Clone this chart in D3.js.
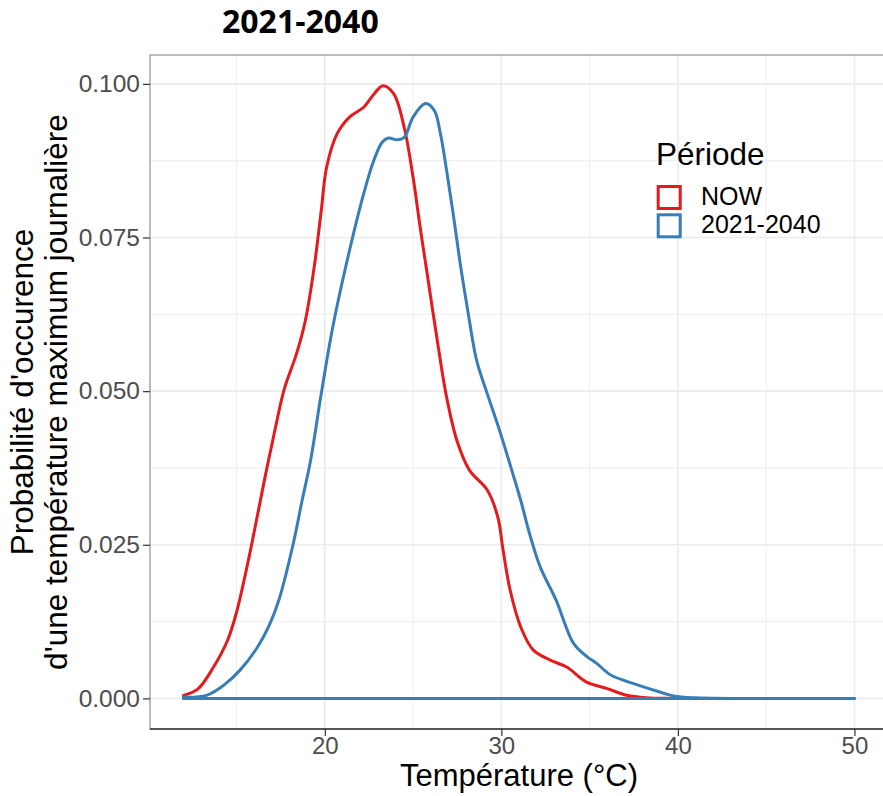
<!DOCTYPE html>
<html><head><meta charset="utf-8">
<script src="https://cdn.jsdelivr.net/npm/d3@7"></script>
<style>body{margin:0;background:#fff}svg{display:block}</style>
</head><body>
<svg id="c" width="883" height="796"></svg>
<script>
const title = "2021-2040";
const xLabel = "Température (°C)";
const yLabel = ["Probabilité d'occurence", "d'une température maximum journalière"];
const legendTitle = "Période";
const seriesNames = ["NOW", "2021-2040"];
const seriesColors = ["#E41A1C", "#377EB8"];
const xTicks = [20, 30, 40, 50];
const xMinor = [15, 25, 35, 45];
const yTicks = [0, 0.025, 0.05, 0.075, 0.1];
const yTickLabels = ["0.000", "0.025", "0.050", "0.075", "0.100"];

const tempNow = [12, 12.8, 13.7, 14.5, 15.0, 15.6, 16.2, 16.7, 17.2, 17.7, 18.4, 18.9, 19.4, 19.8, 20.1, 20.7, 21.4, 22.2, 22.8, 23.3, 23.9, 24.5, 25.0, 25.4, 25.8, 26.4, 26.9, 27.5, 28.2, 29.2, 29.8, 30.1, 30.5, 31.1, 31.8, 32.8, 33.7, 34.8, 36.0, 37.1, 38.2, 40, 50];
const densNow = [0.0005, 0.0015, 0.0051, 0.0095, 0.0140, 0.0215, 0.0300, 0.0372, 0.0440, 0.0503, 0.0561, 0.0615, 0.0702, 0.0794, 0.0864, 0.0919, 0.0946, 0.0962, 0.0984, 0.0997, 0.0984, 0.0929, 0.0848, 0.0767, 0.0691, 0.0577, 0.0490, 0.0418, 0.0371, 0.0339, 0.0295, 0.0241, 0.0176, 0.0116, 0.0079, 0.0062, 0.0051, 0.0027, 0.0016, 0.0005, 0.0001, 0, 0];

const tempFut = [12, 13.3, 14.3, 15.2, 16.2, 16.9, 17.4, 18.2, 18.7, 19.2, 19.8, 20.45, 21.27, 22.2, 22.77, 23.25, 23.6, 24.1, 24.5, 25.0, 25.7, 26.2, 26.55, 26.9, 27.3, 27.7, 28.1, 28.6, 29.2, 29.9, 30.5, 31.1, 31.6, 32.2, 33.1, 34.1, 34.85, 35.4, 36.2, 37.5, 38.8, 39.75, 41, 50];
const densFut = [0.0002, 0.0005, 0.0022, 0.0046, 0.0084, 0.0122, 0.0160, 0.0250, 0.0320, 0.0388, 0.0496, 0.0604, 0.0713, 0.0821, 0.0875, 0.0905, 0.0912, 0.0909, 0.0913, 0.0946, 0.0968, 0.0957, 0.0919, 0.0859, 0.0783, 0.0702, 0.0631, 0.0550, 0.0496, 0.0436, 0.0380, 0.0322, 0.0268, 0.0214, 0.0160, 0.0089, 0.0068, 0.0057, 0.0038, 0.0024, 0.0012, 0.0004, 0.0001, 0];

const series = [
  {name: seriesNames[0], color: seriesColors[0], pts: tempNow.map((t, i) => [t, densNow[i]])},
  {name: seriesNames[1], color: seriesColors[1], pts: tempFut.map((t, i) => [t, densFut[i]])}
];

const FONT = "Liberation Sans, Arial, sans-serif";
const svg = d3.select("#c");
const L = 150, R = 888, T = 55, B = 729;
const x = d3.scaleLinear().domain([10.1, 51.9]).range([L, R]);
const y = d3.scaleLinear().domain([-0.00498, 0.1047]).range([B, T]);

// grid
const g = svg.append("g");
g.selectAll(".vmin").data(xMinor).join("line")
  .attr("x1", d => x(d)).attr("x2", d => x(d)).attr("y1", T).attr("y2", B)
  .attr("stroke", "#F0F0F0").attr("stroke-width", 1.2);
const yMinor = yTicks.slice(0, -1).map((v, i) => (v + yTicks[i + 1]) / 2);
g.selectAll(".hmin").data(yMinor).join("line")
  .attr("x1", L).attr("x2", R).attr("y1", d => y(d)).attr("y2", d => y(d))
  .attr("stroke", "#F0F0F0").attr("stroke-width", 1.2);
g.selectAll(".vmaj").data(xTicks).join("line")
  .attr("x1", d => x(d)).attr("x2", d => x(d)).attr("y1", T).attr("y2", B)
  .attr("stroke", "#EBEBEB").attr("stroke-width", 1.6);
g.selectAll(".hmaj").data(yTicks).join("line")
  .attr("x1", L).attr("x2", R).attr("y1", d => y(d)).attr("y2", d => y(d))
  .attr("stroke", "#EBEBEB").attr("stroke-width", 1.6);

// curves (outline incl. baseline, like geom_density)
const line = d3.line().x(d => x(d[0])).y(d => y(d[1])).curve(d3.curveCatmullRom.alpha(0.5));
series.forEach(s => {
  const first = s.pts[0], last = s.pts[s.pts.length - 1];
  const path = line(s.pts) + `L${x(last[0])},${y(0)}L${x(first[0])},${y(0)}Z`;
  svg.append("path").attr("d", path).attr("fill", "none")
    .attr("stroke", s.color).attr("stroke-width", 3).attr("stroke-linejoin", "round");
});

// panel border
svg.append("rect").attr("x", L).attr("y", T).attr("width", R - L).attr("height", B - T)
  .attr("fill", "none").attr("stroke", "#999").attr("stroke-width", 1.3);
svg.append("line").attr("x1", L).attr("x2", R).attr("y1", B).attr("y2", B)
  .attr("stroke", "#333").attr("stroke-width", 1.3);

// axes
const xa = svg.append("g").attr("transform", `translate(0,${B})`)
  .call(d3.axisBottom(x).tickValues(xTicks).tickSize(7).tickPadding(1).tickFormat(d3.format("d")));
xa.select(".domain").remove();
xa.selectAll("line").attr("stroke", "#333").attr("stroke-width", 1.2);
xa.selectAll("text").attr("fill", "#4D4D4D").attr("font-size", 24).attr("font-family", FONT);

const ya = svg.append("g").attr("transform", `translate(${L},0)`)
  .call(d3.axisLeft(y).tickValues(yTicks).tickSize(7).tickPadding(3).tickFormat((d, i) => yTickLabels[i]));
ya.select(".domain").remove();
ya.selectAll("line").attr("stroke", "#333").attr("stroke-width", 1.2);
ya.selectAll("text").attr("fill", "#4D4D4D").attr("font-size", 24.5).attr("font-family", FONT);

// titles
svg.append("text").attr("x", 222).attr("y", 33).text(title)
  .attr("font-family", "Open Sans, Noto Sans, sans-serif").attr("font-weight", "bold").attr("font-size", 32).attr("fill", "#000");
svg.append("text").attr("x", 519).attr("y", 786).attr("text-anchor", "middle").text(xLabel)
  .attr("font-family", FONT).attr("font-size", 31).attr("fill", "#000");
const yl = svg.append("text").attr("transform", `translate(0,${(T + B) / 2}) rotate(-90)`)
  .attr("text-anchor", "middle").attr("font-family", FONT).attr("font-size", 31.5).attr("fill", "#000");
yl.append("tspan").attr("x", 0).attr("y", 33).text(yLabel[0]);
yl.append("tspan").attr("x", 0).attr("y", 67).text(yLabel[1]);

// legend
const lg = svg.append("g");
lg.append("text").attr("x", 656).attr("y", 165).text(legendTitle)
  .attr("font-family", FONT).attr("font-size", 31.5).attr("fill", "#000");
series.forEach((s, i) => {
  const yy = 185 + i * 28.3;
  lg.append("rect").attr("x", 658.2).attr("y", yy + 1.5).attr("width", 22).attr("height", 22)
    .attr("fill", "#fff").attr("stroke", s.color).attr("stroke-width", 3);
  lg.append("text").attr("x", 701).attr("y", yy + 20).text(s.name)
    .attr("font-family", FONT).attr("font-size", 25).attr("fill", "#000");
});
</script>
</body></html>
